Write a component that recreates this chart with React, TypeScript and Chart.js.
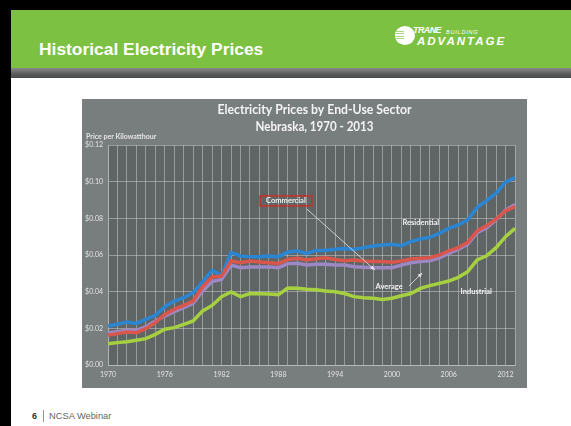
import React, { useEffect, useRef } from 'react';
import { Chart, registerables } from 'chart.js';

Chart.register(...registerables);

const years = [
  '1970', '1971', '1972', '1973', '1974', '1975', '1976', '1977', '1978', '1979',
  '1980', '1981', '1982', '1983', '1984', '1985', '1986', '1987', '1988', '1989',
  '1990', '1991', '1992', '1993', '1994', '1995', '1996', '1997', '1998', '1999',
  '2000', '2001', '2002', '2003', '2004', '2005', '2006', '2007', '2008', '2009',
  '2010', '2011', '2012', '2013',
];

const labeledYears = ['1970', '1976', '1982', '1988', '1994', '2000', '2006', '2012'];

const residential = [
  0.0213, 0.0222, 0.0235, 0.0227, 0.0249, 0.0271, 0.0318, 0.0349, 0.0367, 0.0395,
  0.0455, 0.0516, 0.0489, 0.0613, 0.0595, 0.0591, 0.0591, 0.0595, 0.0591, 0.0616,
  0.0622, 0.0609, 0.0625, 0.0625, 0.0631, 0.0636, 0.0630, 0.0640, 0.0649, 0.0655,
  0.0658, 0.0651, 0.0673, 0.0687, 0.0696, 0.0718, 0.0745, 0.0764, 0.0791, 0.0860,
  0.0897, 0.0937, 0.0997, 0.1022,
];

const commercial = [
  0.0162, 0.0171, 0.0180, 0.0176, 0.0198, 0.0231, 0.0276, 0.0304, 0.0325, 0.0349,
  0.0427, 0.0480, 0.0485, 0.0567, 0.0558, 0.0567, 0.0562, 0.0558, 0.0553, 0.0576,
  0.0582, 0.0573, 0.0580, 0.0585, 0.0575, 0.0569, 0.0573, 0.0567, 0.0564, 0.0564,
  0.0560, 0.0567, 0.0578, 0.0582, 0.0585, 0.0600, 0.0622, 0.0640, 0.0669, 0.0731,
  0.0760, 0.0796, 0.0840, 0.0864,
];

const average = [
  0.0176, 0.0182, 0.0189, 0.0189, 0.0209, 0.0240, 0.0267, 0.0291, 0.0313, 0.0336,
  0.0404, 0.0455, 0.0467, 0.0545, 0.0531, 0.0535, 0.0535, 0.0535, 0.0531, 0.0553,
  0.0555, 0.0545, 0.0549, 0.0549, 0.0545, 0.0545, 0.0536, 0.0533, 0.0531, 0.0531,
  0.0531, 0.0545, 0.0558, 0.0564, 0.0569, 0.0585, 0.0609, 0.0631, 0.0658, 0.0722,
  0.0749, 0.0791, 0.0845, 0.0876,
];

const industrial = [
  0.0116, 0.0122, 0.0127, 0.0135, 0.0144, 0.0167, 0.0195, 0.0204, 0.0222, 0.0240,
  0.0295, 0.0325, 0.0373, 0.0398, 0.0373, 0.0390, 0.0389, 0.0387, 0.0384, 0.0420,
  0.0418, 0.0413, 0.0410, 0.0404, 0.0400, 0.0390, 0.0373, 0.0367, 0.0364, 0.0358,
  0.0364, 0.0378, 0.0390, 0.0418, 0.0433, 0.0445, 0.0458, 0.0478, 0.0509, 0.0573,
  0.0596, 0.0640, 0.0700, 0.0745,
];

const chartTitle = ['Electricity Prices by End-Use Sector', 'Nebraska, 1970 - 2013'];
const yAxisTitle = 'Price per Kilowatthour';

// annotation labels positioned in data units (year index, value)
const annotationLabels = [
  { text: 'Commercial', x: 18.8, y: 0.0895, box: true },
  { text: 'Residential', x: 33.05, y: 0.0775, box: false },
  { text: 'Average', x: 29.7, y: 0.0426, box: false },
  { text: 'Industrial', x: 38.9, y: 0.0398, box: false },
];

const annotationArrows = [
  { x0: 21.0, y0: 0.0851, x1: 28.2, y1: 0.0518 },
  { x0: 31.8, y0: 0.0431, x1: 33.2, y1: 0.0502 },
];

const photoPlugin = {
  id: 'photoPlugin',
  beforeDraw(chart: any) {
    const { ctx, chartArea, width, height } = chart;
    ctx.save();
    ctx.fillStyle = '#787d7d';
    ctx.fillRect(0, 0, width, height);
    ctx.fillStyle = '#5f6464';
    ctx.fillRect(chartArea.left, chartArea.top, chartArea.right - chartArea.left, chartArea.bottom - chartArea.top);
    ctx.restore();
  },
  afterDraw(chart: any) {
    const { ctx, chartArea, scales } = chart;
    const xs = scales.x;
    const ys = scales.y;
    ctx.save();
    // title
    ctx.fillStyle = '#f4f4f4';
    ctx.textAlign = 'center';
    ctx.textBaseline = 'middle';
    ctx.font = 'bold 13px Lato';
    const cx = (chartArea.left + chartArea.right) / 2 + 3;
    ctx.fillText(chartTitle[0], cx, chartArea.top - 35, 194);
    ctx.fillText(chartTitle[1], cx, chartArea.top - 18, 118);
    // y axis title
    ctx.textAlign = 'left';
    ctx.font = 'bold 7px Lato';
    ctx.fillStyle = '#e6e6e6';
    ctx.fillText(yAxisTitle, 4, chartArea.top - 8);

    // arrows
    ctx.strokeStyle = '#e8e8e8';
    ctx.fillStyle = '#e8e8e8';
    ctx.lineWidth = 0.8;
    annotationArrows.forEach((a) => {
      const px0 = xs.getPixelForValue(a.x0);
      const py0 = ys.getPixelForValue(a.y0);
      const px1 = xs.getPixelForValue(a.x1);
      const py1 = ys.getPixelForValue(a.y1);
      ctx.beginPath();
      ctx.moveTo(px0, py0);
      ctx.lineTo(px1, py1);
      ctx.stroke();
      const ang = Math.atan2(py1 - py0, px1 - px0);
      const hl = 5;
      ctx.beginPath();
      ctx.moveTo(px1, py1);
      ctx.lineTo(px1 - hl * Math.cos(ang - 0.4), py1 - hl * Math.sin(ang - 0.4));
      ctx.lineTo(px1 - hl * Math.cos(ang + 0.4), py1 - hl * Math.sin(ang + 0.4));
      ctx.closePath();
      ctx.fill();
    });

    // labels
    ctx.font = 'bold 7.5px Lato';
    ctx.textAlign = 'center';
    ctx.textBaseline = 'middle';
    annotationLabels.forEach((l) => {
      const px = xs.getPixelForValue(l.x);
      const py = ys.getPixelForValue(l.y);
      if (l.box) {
        ctx.strokeStyle = '#e0241c';
        ctx.lineWidth = 1.2;
        ctx.strokeRect(px - 26, py - 5, 52, 10);
      }
      ctx.fillStyle = '#f2f2f2';
      ctx.fillText(l.text, px, py);
    });
    ctx.restore();
  },
};

function ChartPhoto() {
  const ref = useRef<HTMLCanvasElement | null>(null);
  useEffect(() => {
    if (!ref.current) return;
    const gridColor = 'rgba(196, 200, 200, 0.55)';
    const chart = new Chart(ref.current, {
      type: 'line',
      data: {
        labels: years,
        datasets: [
          { label: 'Industrial', data: industrial, borderColor: '#a6d040', borderWidth: 3.5 },
          { label: 'Commercial', data: commercial, borderColor: '#d9564c', borderWidth: 3.5 },
          { label: 'Average', data: average, borderColor: '#9b88c4', borderWidth: 3.5 },
          { label: 'Residential', data: residential, borderColor: '#2a86d2', borderWidth: 3.5 },
        ].map((d) => ({ ...d, pointRadius: 0, tension: 0, fill: false })),
      },
      options: {
        animation: false,
        responsive: false,
        maintainAspectRatio: false,
        layout: { padding: { top: 46, right: 12, left: 0, bottom: 0 } },
        plugins: { legend: { display: false }, tooltip: { enabled: false }, title: { display: false } },
        scales: {
          x: {
            type: 'category',
            offset: false,
            grid: { color: gridColor, drawTicks: false, lineWidth: 1 },
            border: { color: gridColor },
            ticks: {
              autoSkip: false,
              maxRotation: 0,
              minRotation: 0,
              padding: 6,
              color: '#e4e4e4',
              font: { family: 'Lato', size: 7 },
              callback: function (this: any, val: any) {
                const lab = this.getLabelForValue(val);
                return labeledYears.includes(lab) ? lab : '';
              },
            },
            afterFit(scale: any) {
              scale.height = 23;
            },
          },
          y: {
            min: 0,
            max: 0.12,
            grid: { color: gridColor, drawTicks: false, lineWidth: 1 },
            border: { color: gridColor },
            ticks: {
              stepSize: 0.02,
              padding: 5,
              color: '#e4e4e4',
              font: { family: 'Lato', size: 7 },
              callback: (v: any) => '$' + Number(v).toFixed(2),
            },
            afterFit(scale: any) {
              scale.width = 26;
            },
          },
        },
      },
      plugins: [photoPlugin],
    });
    return () => chart.destroy();
  }, []);
  return <canvas ref={ref} width={445} height={289} style={{ display: 'block', width: 445, height: 289 }} />;
}

export default function App() {
  const abs = (s: React.CSSProperties): React.CSSProperties => ({ position: 'absolute', ...s });
  return (
    <div style={{ position: 'fixed', left: 0, top: 0, width: 571, height: 426, background: '#fff', overflow: 'hidden', fontFamily: '"Liberation Sans", Arial, sans-serif' }}>
      <div style={abs({ left: 0, top: 0, width: 571, height: 10, background: '#000' })} />
      <div style={abs({ left: 0, top: 0, width: 11, height: 426, background: '#000' })} />
      <div style={abs({ left: 11, top: 10, width: 560, height: 58, background: '#7dc142' })} />
      <div style={abs({ left: 11, top: 68, width: 560, height: 10, background: 'linear-gradient(to bottom, #8a8a8a 0%, #5a5a5a 60%, #4a4a4a 100%)' })} />
      <div style={abs({ left: 39, top: 41, fontSize: 17.4, lineHeight: '17px', fontWeight: 'bold', color: '#fff', whiteSpace: 'nowrap' })}>
        Historical Electricity Prices
      </div>
      {/* logo */}
      <div style={abs({ left: 395, top: 26, width: 20, height: 19, borderRadius: '50%', background: '#fff', overflow: 'hidden' })}>
        <div style={abs({ left: 0, top: 3, width: 9, height: 13, background: 'repeating-linear-gradient(to bottom, #fff 0px, #fff 1.5px, #a9d67e 1.5px, #a9d67e 2.5px)' })} />
      </div>
      <div style={abs({ left: 413, top: 26, fontSize: 9, lineHeight: '9px', fontWeight: 'bold', fontStyle: 'italic', color: '#fff', letterSpacing: -0.6, whiteSpace: 'nowrap' })}>
        TRANE
      </div>
      <div style={abs({ left: 446, top: 29, fontSize: 5.5, lineHeight: '6px', fontStyle: 'italic', color: '#fff', letterSpacing: 0.8, whiteSpace: 'nowrap' })}>
        BUILDING
      </div>
      <div style={abs({ left: 417, top: 36, fontSize: 11.5, lineHeight: '11px', fontWeight: 'bold', fontStyle: 'italic', color: '#fff', letterSpacing: 2, whiteSpace: 'nowrap' })}>
        ADVANTAGE
      </div>
      {/* chart photo */}
      <div style={abs({ left: 82, top: 99, width: 445, height: 289 })}>
        <ChartPhoto />
      </div>
      {/* footer */}
      <div style={abs({ left: 32, top: 411, fontSize: 9, lineHeight: '10px', fontWeight: 'bold', color: '#333' })}>6</div>
      <div style={abs({ left: 43, top: 410, width: 1, height: 12, background: '#999' })} />
      <div style={abs({ left: 49, top: 411, fontSize: 9.3, lineHeight: '10px', color: '#666', whiteSpace: 'nowrap' })}>NCSA Webinar</div>
    </div>
  );
}
